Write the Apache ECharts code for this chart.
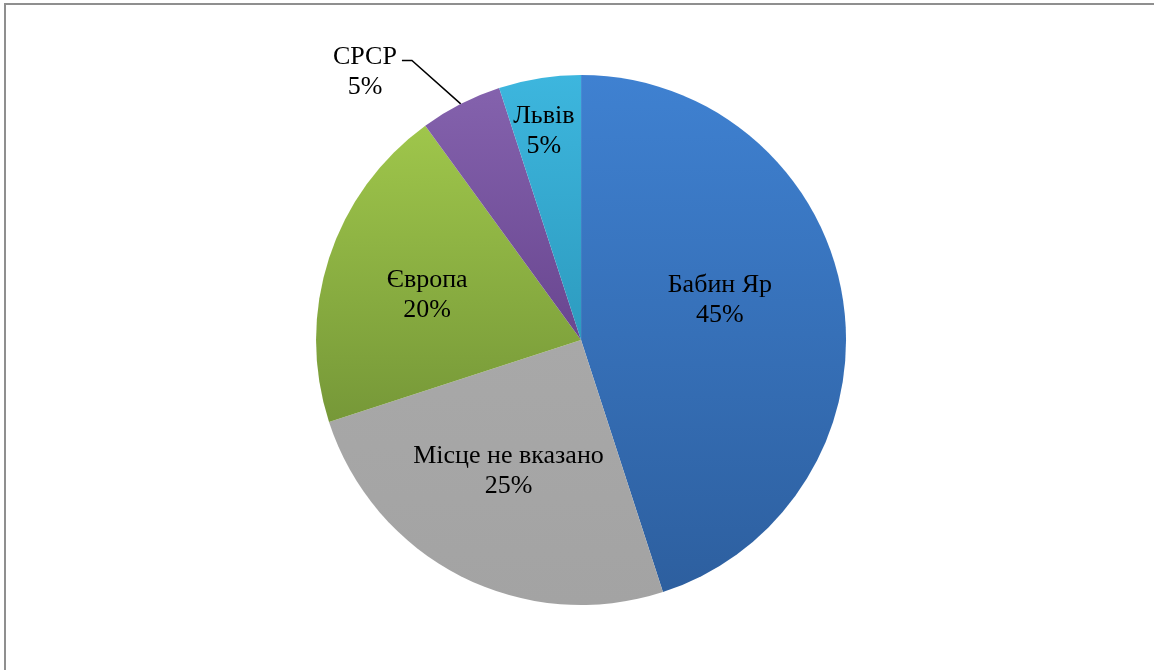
<!DOCTYPE html>
<html>
<head>
<meta charset="utf-8">
<script src="https://cdn.jsdelivr.net/npm/echarts@6/dist/echarts.min.js"></script>
<style>
  html, body { margin: 0; padding: 0; background: #fff; overflow: hidden; }
  #frame { position: absolute; left: 4px; top: 3px; width: 1170px; height: 690px; border: 2px solid #8f8f8f; box-sizing: border-box; }
  #chart { position: absolute; left: 0; top: 0; width: 1154px; height: 670px; }
</style>
</head>
<body>
<div id="frame"></div>
<div id="chart"></div>
<script>
// ---- data ----
const categories = ['Бабин Яр', 'Місце не вказано', 'Європа', 'СРСР', 'Львів'];
const values = [45, 25, 20, 5, 5];
// ---- styling ----
const topColors = ['#3f81d1', '#a8a8a8', '#9fc64b', '#8462ad', '#3db6de'];
const bottomColors = ['#2d5f9f', '#a3a3a3', '#769838', '#694690', '#2d9bbf'];
const labelShift = [[5, -19], [-11, 10], [-25, -3], [-42, -18], [-16, -75]];
const outsideIndex = 3;

const chart = echarts.init(document.getElementById('chart'), null, { renderer: 'canvas' });

const data = categories.map((name, i) => {
  const item = {
    name: name,
    value: values[i],
    itemStyle: {
      color: {
        type: 'linear', x: 0, y: 0, x2: 0, y2: 1,
        colorStops: [
          { offset: 0, color: topColors[i] },
          { offset: 1, color: bottomColors[i] }
        ]
      }
    }
  };
  if (i === outsideIndex) {
    item.label = { position: 'outside' };
    item.labelLine = { show: true, length: 15, length2: 10, lineStyle: { color: '#000', width: 1.5 } };
  }
  return item;
});

chart.setOption({
  backgroundColor: 'transparent',
  animation: false,
  series: [{
    type: 'pie',
    center: ['50.35%', '50.75%'],
    radius: [0, 265],
    startAngle: 90,
    clockwise: true,
    avoidLabelOverlap: false,
    data: data,
    itemStyle: { borderWidth: 0 },
    label: {
      show: true,
      position: 'inside',
      formatter: '{b}\n{d}%',
      fontFamily: '"Liberation Serif", "Times New Roman", serif',
      fontSize: 26,
      lineHeight: 30,
      color: '#000',
      align: 'center'
    },
    labelLine: { show: false },
    emphasis: { disabled: true },
    labelLayout: function (params) {
      const i = params.dataIndex;
      const s = labelShift[i];
      if (i === outsideIndex) {
        const r = params.labelRect;
        const nx = r.x + s[0];
        const ny = r.y + s[1];
        const right = nx + r.width;
        const ly = ny + r.height * 0.3;
        const res = { dx: s[0] - r.width / 2, dy: s[1], align: 'center' };
        if (params.labelLinePoints && params.labelLinePoints.length) {
          const p0 = params.labelLinePoints[0];
          res.labelLinePoints = [p0, [right + 15, ly], [right + 5, ly]];
        }
        return res;
      }
      return { dx: s[0], dy: s[1] };
    }
  }]
});
</script>
</body>
</html>
